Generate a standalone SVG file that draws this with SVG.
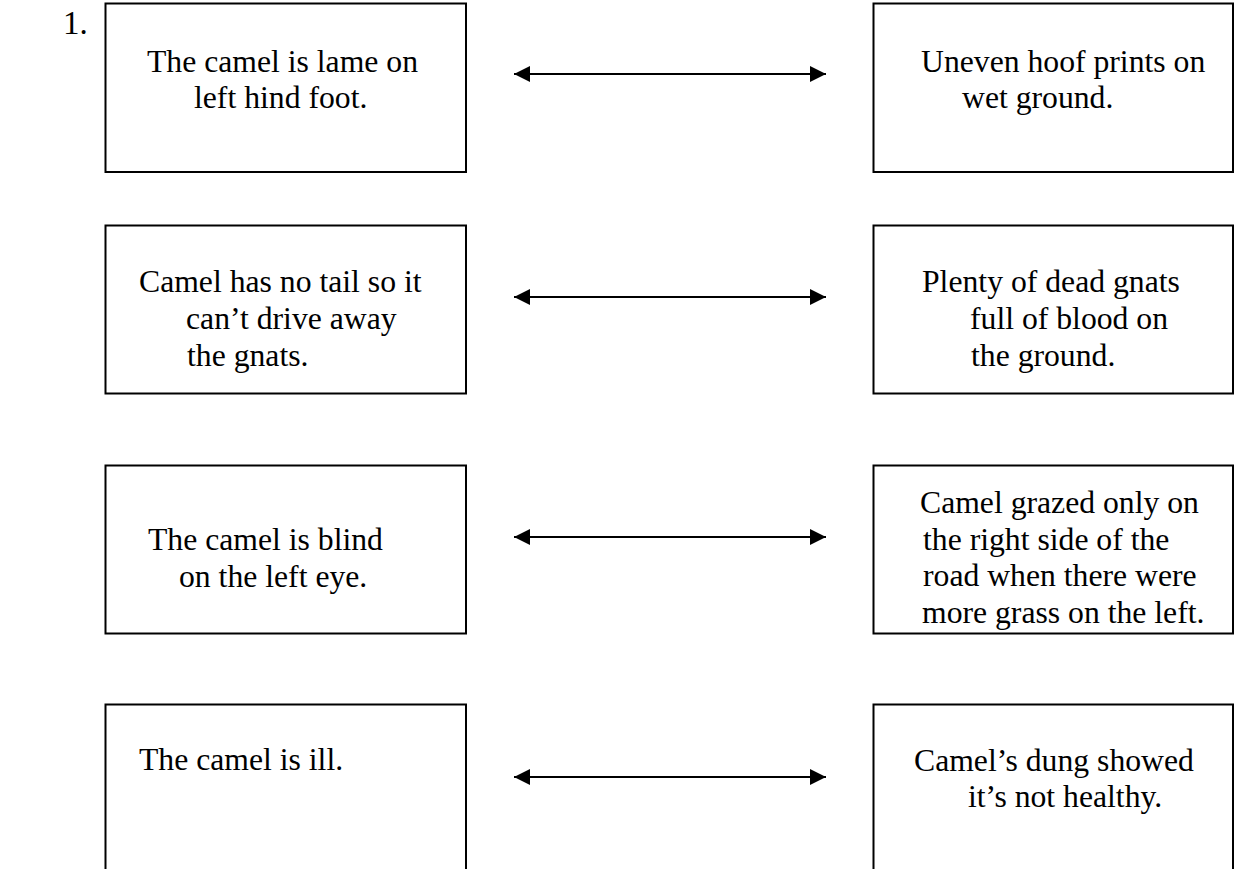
<svg xmlns="http://www.w3.org/2000/svg" width="1237" height="869" viewBox="0 0 1237 869">
<style>
.box{fill:#fff;stroke:#000;stroke-width:2}
.t{font-family:"Liberation Serif","Times New Roman",serif;font-size:31.7px;fill:#000}
.arr{stroke:#000;stroke-width:1.8;fill:none}
</style>
<defs>
<marker id="ah" markerWidth="16" markerHeight="16" refX="16" refY="8" orient="auto-start-reverse" markerUnits="userSpaceOnUse" viewBox="0 0 16 16">
<path d="M0,0 L16,8 L0,16 Z" fill="#000"/>
</marker>
</defs>
<rect width="1237" height="869" fill="#fff"/>
<text class="t" x="63" y="34" style="font-size:33px">1.</text>
<g id="n1"><rect class="box" x="105.5" y="3.5" width="360.5" height="168.5"/>
<text class="t" x="147" y="72">The camel is lame on</text><text class="t" x="194" y="108">left hind foot.</text></g>
<g id="n2"><rect class="box" x="873.5" y="3.5" width="359.5" height="168.5"/>
<text class="t" x="921" y="72">Uneven hoof prints on</text><text class="t" x="962" y="108">wet ground.</text></g>
<g id="n3"><rect class="box" x="105.5" y="225.5" width="360.5" height="168"/>
<text class="t" x="139" y="292">Camel has no tail so it</text><text class="t" x="186" y="329">can’t drive away</text><text class="t" x="187" y="366">the gnats.</text></g>
<g id="n4"><rect class="box" x="873.5" y="225.5" width="359.5" height="168"/>
<text class="t" x="922" y="292">Plenty of dead gnats</text><text class="t" x="970" y="329">full of blood on</text><text class="t" x="971" y="366">the ground.</text></g>
<g id="n5"><rect class="box" x="105.5" y="465.5" width="360.5" height="168"/>
<text class="t" x="148" y="550">The camel is blind</text><text class="t" x="179" y="587">on the left eye.</text></g>
<g id="n6"><rect class="box" x="873.5" y="465.5" width="359.5" height="168"/>
<text class="t" x="920" y="513">Camel grazed only on</text><text class="t" x="923" y="550">the right side of the</text><text class="t" x="923" y="586">road when there were</text><text class="t" x="922" y="623">more grass on the left.</text></g>
<g id="n7"><rect class="box" x="105.5" y="704.5" width="360.5" height="180"/>
<text class="t" x="139" y="770">The camel is ill.</text></g>
<g id="n8"><rect class="box" x="873.5" y="704.5" width="359.5" height="180"/>
<text class="t" x="914" y="771">Camel’s dung showed</text><text class="t" x="968" y="807">it’s not healthy.</text></g>
<g id="connectors">
<line class="arr" x1="514" y1="74" x2="826" y2="74" marker-start="url(#ah)" marker-end="url(#ah)"/>
<line class="arr" x1="514" y1="297" x2="826" y2="297" marker-start="url(#ah)" marker-end="url(#ah)"/>
<line class="arr" x1="514" y1="537" x2="826" y2="537" marker-start="url(#ah)" marker-end="url(#ah)"/>
<line class="arr" x1="514" y1="777" x2="826" y2="777" marker-start="url(#ah)" marker-end="url(#ah)"/>
</g>
</svg>
